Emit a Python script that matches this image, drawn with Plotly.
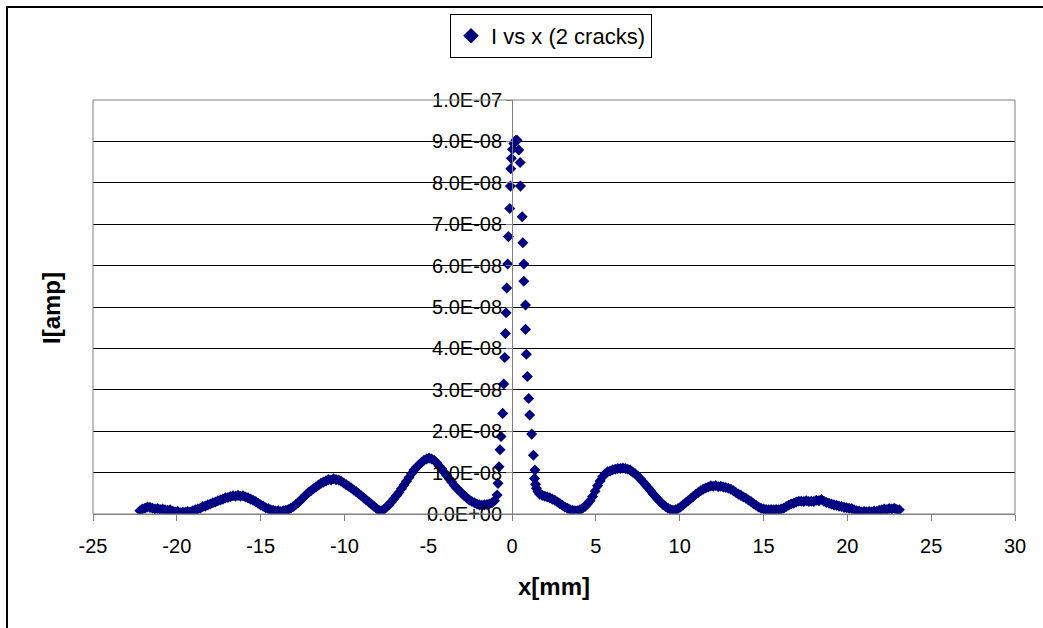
import plotly.graph_objects as go

# ---- data (x in mm, current in units of 1e-8 A) ----
left_x = [
    -22.20, -22.05, -21.90, -21.75, -21.60, -21.45, -21.30, -21.15, -21.00, -20.85, -20.70, -20.55,
    -20.40, -20.25, -20.10, -19.95, -19.80, -19.65, -19.50, -19.35, -19.20, -19.05, -18.90, -18.75,
    -18.60, -18.45, -18.30, -18.15, -18.00, -17.85, -17.70, -17.55, -17.40, -17.25, -17.10, -16.95,
    -16.80, -16.65, -16.50, -16.35, -16.20, -16.05, -15.90, -15.75, -15.60, -15.45, -15.30, -15.15,
    -15.00, -14.85, -14.70, -14.55, -14.40, -14.25, -14.10, -13.95, -13.80, -13.65, -13.50, -13.35,
    -13.20, -13.05, -12.90, -12.75, -12.60, -12.45, -12.30, -12.15, -12.00, -11.85, -11.70, -11.55,
    -11.40, -11.25, -11.10, -10.95, -10.80, -10.65, -10.50, -10.35, -10.20, -10.05, -9.90, -9.75,
    -9.60, -9.45, -9.30, -9.15, -9.00, -8.85, -8.70, -8.55, -8.40, -8.25, -8.10, -7.95, -7.85,
    -7.75, -7.65, -7.50, -7.35, -7.20, -7.05, -6.90, -6.75, -6.60, -6.45, -6.30, -6.15, -6.00,
    -5.85, -5.70, -5.55, -5.40, -5.25, -5.10, -4.95, -4.80, -4.65, -4.50, -4.35, -4.20, -4.05,
    -3.90, -3.75, -3.60, -3.45, -3.30, -3.15, -3.00, -2.85, -2.70, -2.55, -2.40, -2.25, -2.10,
    -1.95, -1.80, -1.65, -1.50, -1.35, -1.20, -1.05,
]
left_i = [
    0.08, 0.12, 0.14, 0.17, 0.16, 0.14, 0.12, 0.13, 0.11, 0.12, 0.10, 0.09,
    0.10, 0.07, 0.05, 0.06, 0.03, 0.05, 0.04, 0.06, 0.05, 0.08, 0.10, 0.12,
    0.14, 0.18, 0.19, 0.22, 0.24, 0.27, 0.29, 0.32, 0.34, 0.36, 0.39, 0.40,
    0.42, 0.44, 0.43, 0.45, 0.43, 0.44, 0.41, 0.39, 0.36, 0.33, 0.30, 0.26,
    0.22, 0.19, 0.15, 0.13, 0.10, 0.09, 0.07, 0.08, 0.06, 0.08, 0.09, 0.11,
    0.14, 0.18, 0.23, 0.28, 0.34, 0.40, 0.46, 0.52, 0.56, 0.61, 0.65, 0.70,
    0.74, 0.77, 0.80, 0.83, 0.82, 0.85, 0.83, 0.82, 0.79, 0.75, 0.71, 0.67,
    0.63, 0.58, 0.54, 0.49, 0.44, 0.39, 0.34, 0.29, 0.24, 0.19, 0.14, 0.09, 0.06,
    0.08, 0.11, 0.17, 0.22, 0.29, 0.37, 0.44, 0.52, 0.61, 0.70, 0.79, 0.88, 0.97,
    1.06, 1.13, 1.19, 1.25, 1.30, 1.33, 1.35, 1.33, 1.30, 1.24, 1.16, 1.09, 1.01,
    0.93, 0.85, 0.77, 0.69, 0.62, 0.56, 0.50, 0.44, 0.39, 0.34, 0.30, 0.27, 0.24,
    0.22, 0.21, 0.22, 0.23, 0.24, 0.27, 0.32,
]
peak_x = [
    -0.89, -0.84, -0.78, -0.72, -0.66, -0.56, -0.50, -0.44, -0.40, -0.36, -0.32, -0.26, -0.22,
    -0.14, -0.10, -0.08, -0.04, 0.02, 0.10, 0.22, 0.30, 0.40, 0.48, 0.50, 0.60, 0.64, 0.70,
    0.70, 0.80, 0.80, 0.85, 0.91, 0.99, 1.05, 1.17, 1.27, 1.36, 1.34,
]
peak_i = [
    0.46, 0.74, 1.14, 1.55, 1.87, 2.43, 3.14, 3.78, 4.36, 4.86, 5.46, 6.04, 6.70,
    7.38, 7.92, 8.34, 8.59, 8.81, 8.95, 9.03, 9.03, 8.79, 8.49, 7.92, 7.18, 6.55, 6.04,
    5.62, 5.05, 4.46, 3.86, 3.32, 2.79, 2.39, 1.93, 1.42, 1.06, 0.86,
]
right_x = [
    1.40, 1.45, 1.55, 1.65, 1.80, 1.95, 2.10, 2.25, 2.40, 2.55, 2.70, 2.85, 3.00, 3.15, 3.30,
    3.45, 3.60, 3.75, 3.90, 4.05, 4.20, 4.35, 4.50, 4.65, 4.80, 4.95, 5.10, 5.25, 5.40, 5.55,
    5.70, 5.85, 6.00, 6.15, 6.30, 6.45, 6.60, 6.75, 6.90, 7.05, 7.20, 7.35, 7.50, 7.65, 7.80,
    7.95, 8.10, 8.25, 8.40, 8.55, 8.70, 8.85, 9.00, 9.15, 9.30, 9.45, 9.60, 9.75, 9.90, 10.05,
    10.20, 10.35, 10.50, 10.65, 10.80, 10.95, 11.10, 11.25, 11.40, 11.55, 11.70, 11.85, 12.00,
    12.15, 12.30, 12.45, 12.60, 12.75, 12.90, 13.05, 13.20, 13.35, 13.50, 13.65, 13.80, 13.95,
    14.10, 14.25, 14.40, 14.55, 14.70, 14.85, 15.00, 15.15, 15.30, 15.45, 15.60, 15.75, 15.90,
    16.05, 16.20, 16.35, 16.50, 16.65, 16.80, 16.95, 17.10, 17.25, 17.40, 17.55, 17.70, 17.85,
    18.00, 18.15, 18.30, 18.45, 18.60, 18.75, 18.90, 19.05, 19.20, 19.35, 19.50, 19.65, 19.80,
    19.95, 20.10, 20.25, 20.40, 20.55, 20.70, 20.85, 21.00, 21.15, 21.30, 21.45, 21.60, 21.75,
    21.90, 22.05, 22.20, 22.35, 22.50, 22.65, 22.80, 22.95, 23.10,
]
right_i = [
    0.72, 0.62, 0.54, 0.48, 0.45, 0.43, 0.41, 0.39, 0.36, 0.33, 0.29, 0.25, 0.21, 0.17, 0.14,
    0.11, 0.09, 0.08, 0.08, 0.10, 0.14, 0.18, 0.25, 0.32, 0.42, 0.55, 0.68, 0.80, 0.90, 0.97,
    1.02, 1.04, 1.07, 1.08, 1.10, 1.10, 1.11, 1.10, 1.08, 1.06, 1.01, 0.97, 0.91, 0.85, 0.78,
    0.71, 0.64, 0.57, 0.49, 0.42, 0.35, 0.29, 0.23, 0.18, 0.14, 0.11, 0.09, 0.10, 0.13, 0.17,
    0.22, 0.27, 0.32, 0.37, 0.42, 0.47, 0.52, 0.56, 0.60, 0.63, 0.65, 0.68, 0.67,
    0.69, 0.66, 0.67, 0.65, 0.64, 0.62, 0.60, 0.56, 0.52, 0.48, 0.45, 0.41, 0.38,
    0.34, 0.30, 0.25, 0.21, 0.17, 0.14, 0.12, 0.11, 0.10, 0.11, 0.10, 0.11, 0.10,
    0.12, 0.14, 0.18, 0.21, 0.24, 0.26, 0.29, 0.31, 0.31, 0.30, 0.32, 0.30, 0.31,
    0.30, 0.33, 0.32, 0.35, 0.31, 0.28, 0.26, 0.24, 0.22, 0.21, 0.19, 0.18, 0.16,
    0.15, 0.14, 0.13, 0.10, 0.08, 0.07, 0.05, 0.06, 0.05, 0.06, 0.05, 0.07, 0.06,
    0.09, 0.10, 0.12, 0.11, 0.13, 0.12, 0.14, 0.11, 0.10,
]

y_tickvals = [i * 1e-8 for i in range(11)]
y_ticktext = ["0.0E+00", "1.0E-08", "2.0E-08", "3.0E-08", "4.0E-08", "5.0E-08",
              "6.0E-08", "7.0E-08", "8.0E-08", "9.0E-08", "1.0E-07"]
x_tickvals = [-25, -20, -15, -10, -5, 0, 5, 10, 15, 20, 25, 30]
series_name = "I vs x (2 cracks)"

x_all = left_x + peak_x + right_x
i_all = [v * 1e-8 for v in (left_i + peak_i + right_i)]

FONT = "Liberation Sans, Arial, sans-serif"
NAVY = "#000080"

fig = go.Figure()
fig.add_trace(go.Scatter(
    x=x_all, y=i_all, mode="markers", name=series_name,
    marker=dict(symbol="diamond", size=8.5, color=NAVY, line=dict(width=0)),
))

L, R, T, B = 93, 28, 100, 114
pw = 1043 - L - R
ph = 628 - T - B

def px_x(p):
    return (p - L) / pw

def px_y(p):
    return (628 - B - p) / ph

fig.update_layout(
    width=1043, height=628,
    margin=dict(l=L, r=R, t=T, b=B, pad=0),
    paper_bgcolor="white", plot_bgcolor="white",
    font=dict(family=FONT, size=20, color="black"),
    showlegend=True,
    legend=dict(
        x=px_x(551), y=px_y(14), xanchor="center", yanchor="top",
        bgcolor="white", bordercolor="black", borderwidth=1,
        font=dict(family=FONT, size=22, color="black"),
        itemsizing="constant", tracegroupgap=0,
    ),
    xaxis=dict(
        range=[-25, 30], tickvals=x_tickvals, ticktext=[str(v) for v in x_tickvals],
        showgrid=False, zeroline=False,
        showline=True, linecolor="#808080", linewidth=1,
        ticks="outside", ticklen=6, tickcolor="#808080",
        ticklabelstandoff=8,
        tickfont=dict(family=FONT, size=20, color="black"),
        title=dict(text="<b>x[mm]</b>", font=dict(family=FONT, size=24, color="black"), standoff=22),
    ),
    yaxis=dict(
        range=[0, 1e-7], tickvals=y_tickvals, ticktext=y_ticktext,
        anchor="free", position=25 / 55,
        showgrid=True, gridcolor="black", gridwidth=1, zeroline=False,
        showline=True, linecolor="#808080", linewidth=1,
        ticks="outside", ticklen=6, tickcolor="#808080",
        tickfont=dict(family=FONT, size=20, color="black"),
    ),
    annotations=[dict(
        text="<b>I[amp]</b>", xref="paper", yref="paper",
        x=px_x(51), y=px_y(308), textangle=-90, showarrow=False,
        xanchor="center", yanchor="middle",
        font=dict(family=FONT, size=24, color="black"),
    )],
    shapes=[
        dict(type="rect", xref="paper", yref="paper", x0=0, x1=1, y0=0, y1=1,
             line=dict(color="#808080", width=1), layer="above"),
        dict(type="rect", xref="paper", yref="paper",
             x0=px_x(7), x1=px_x(1070), y0=px_y(660), y1=px_y(7),
             line=dict(color="black", width=2), layer="above"),
    ],
)

fig.write_html("out.html")
